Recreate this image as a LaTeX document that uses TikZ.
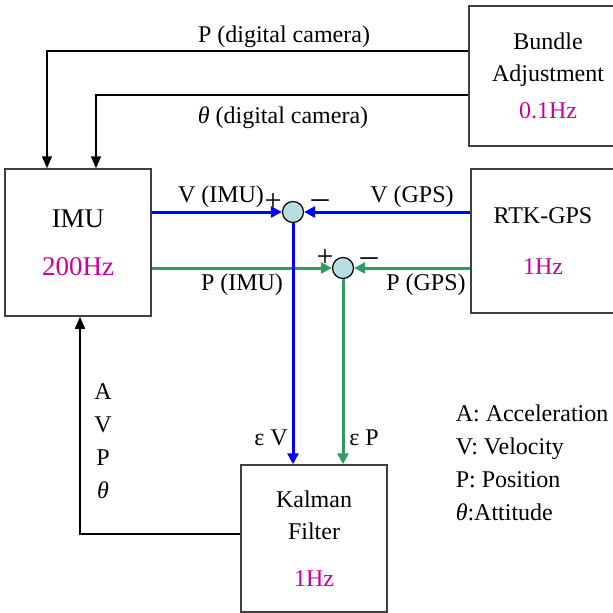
\documentclass[tikz,border=0pt]{standalone}
\usepackage{fontspec}
\setmainfont{Liberation Serif}
\usetikzlibrary{arrows.meta, positioning, calc}
\definecolor{cblue}{HTML}{0000FF}
\definecolor{cgreen}{HTML}{339966}
\definecolor{cmag}{HTML}{CC0099}
\definecolor{csum}{HTML}{B7DDE0}
\definecolor{cframe}{HTML}{404040}
\tikzset{
  every picture/.style={font=\fontsize{24}{28}\selectfont, line width=1.5pt},
  box/.style={draw=cframe, fill=white, align=center, inner sep=0pt, line width=1.5pt},
  sumnode/.style={circle, draw=black, fill=csum, minimum size=21pt, inner sep=0pt, line width=1.2pt},
  arrow/.style={-{Triangle[length=12pt, width=10pt]}, draw=black, line width=1.5pt},
  flow/.style={-{Triangle[length=11pt, width=11pt]}, draw=#1, line width=3pt},
  lab/.style={inner sep=0pt},
  sign/.style={inner sep=0pt, font=\fontsize{30}{30}\selectfont},
  dash sign/.style={inner sep=0pt, font=\fontsize{34}{34}\selectfont},
}

\begin{document}
\begin{tikzpicture}[x=1pt, y=-1pt]
  \useasboundingbox (0,0) rectangle (613,613);
  \clip (0,0) rectangle (613,613);
  % ---------- blocks ----------
  \node[box, minimum width=146pt, minimum height=147pt, font=\fontsize{27}{31}\selectfont] (imu) at (78,242.5)
    {IMU\\[17pt]\textcolor{cmag}{200Hz}};
  \node[box, minimum width=144pt, minimum height=144pt] (rtk) at (543,241)
    {RTK-GPS\\[23pt]\textcolor{cmag}{1Hz}};
  \node[box, minimum width=158pt, minimum height=140pt] (ba) at (548,76)
    {Bundle\\[4pt]Adjustment\\[9pt]\textcolor{cmag}{0.1Hz}};
  \node[box, minimum width=146pt, minimum height=147pt] (kf) at (314,538.5)
    {Kalman\\[4pt]Filter\\[19pt]\textcolor{cmag}{1Hz}};
  \node[sumnode] (sumv) at (293,212) {};
  \node[sumnode] (sump) at (343,268) {};
  % ---------- camera feedback ----------
  \coordinate (pcam) at (47,51);
  \coordinate (tcam) at (96,95);
  \draw[arrow] (ba.west |- pcam) -| (pcam |- imu.north);
  \draw[arrow] (ba.west |- tcam) -| (tcam |- imu.north);
  \node[lab] (plab) at (284,37) {P (digital camera)};
  \node[lab] (tlab) at (283,118) {{\itshape θ} (digital camera)};
  % ---------- position errors ----------
  \draw[flow=cgreen] (imu.east |- sump) -- (sump);
  \draw[flow=cgreen] (rtk.west |- sump) -- (sump);
  \draw[flow=cgreen] (sump) -- (sump |- kf.north);
  % ---------- velocity errors ----------
  \draw[flow=cblue] (imu.east |- sumv) -- (sumv);
  \draw[flow=cblue] (rtk.west |- sumv) -- (sumv);
  \draw[flow=cblue] (sumv) -- (sumv |- kf.north);
  \node[lab] (vimu) at (221,197) {V (IMU)};
  \node[sign] (vplus) at (273,202) {+};
  \node[dash sign] (vminus) at (320,204) {–};
  \node[lab] (vgps) at (412,197) {V (GPS)};
  \node[sign] (pplus) at (325,258) {+};
  \node[dash sign] (pminus) at (369,262) {–};
  \node[lab] (pimu) at (242,285) {P (IMU)};
  \node[lab] (pgps) at (426,285) {P (GPS)};
  \node[lab] (ev) at (271,438) {ε V};
  \node[lab] (ep) at (364,438) {ε P};
  % ---------- filter feedback ----------
  \coordinate (fb) at (80,534);
  \draw[arrow] (kf.west |- fb) -| (fb |- imu.south);
  \node[lab, align=center] (avpt) at (103,441) {A\\[5pt]V\\[5pt]P\\[5pt]{\itshape θ}};
  % ---------- legend ----------
  \node[lab, anchor=west, align=left] (legend) at (455,463)
    {A: Acceleration\\[5pt]V: Velocity\\[5pt]P: Position\\[5pt]{\itshape θ}:Attitude};
\end{tikzpicture}
\end{document}
